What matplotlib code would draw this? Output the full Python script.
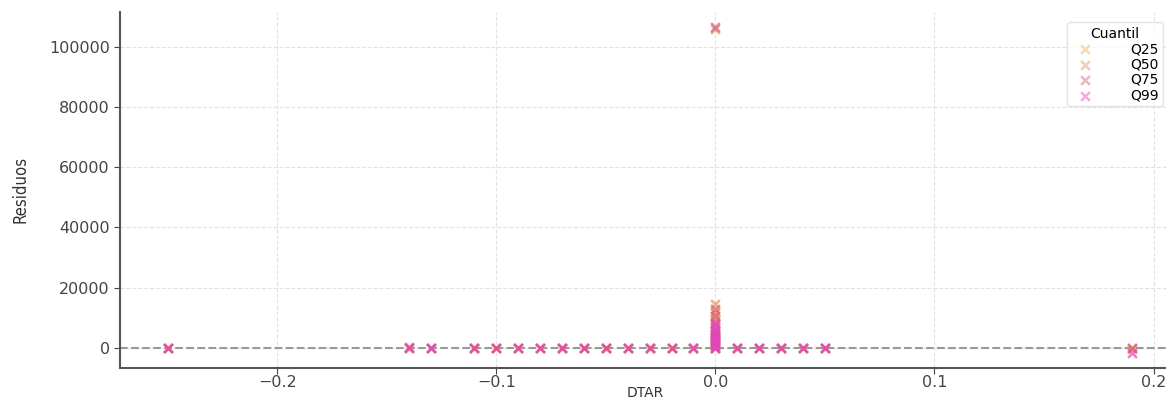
import matplotlib
matplotlib.use('Agg')
import matplotlib.pyplot as plt

# DTAR values observed away from zero (shared by every quantile)
dtar_grid = [-0.25, -0.14, -0.13, -0.11, -0.10, -0.09, -0.08, -0.07, -0.06,
             -0.05, -0.04, -0.03, -0.02, -0.01, 0.01, 0.02, 0.03, 0.04,
             0.05, 0.19]

# residuals on the grid above, per quantile
res_q25 = [-200, -150, -100, -120, -90, -80, -60, -70, -50, -40, -60, -30,
           -40, -20, -30, -50, -60, -80, -100, -300]
res_q50 = [-100, -80, -60, -70, -50, -40, -30, -40, -30, -20, -30, -20,
           -20, -10, -20, -30, -40, -50, -60, -200]
res_q75 = [0, 20, 10, 0, 10, 20, 10, 0, 10, 20, 10, 0, 10, 20, 0, -10,
           -20, -30, -40, -100]
res_q99 = [100, 150, 120, 100, 80, 90, 70, 60, 80, 90, 70, 60, 50, 60,
           40, 30, 20, 10, 0, -1800]

# residuals at DTAR == 0, per quantile
zero_q25 = [0, 1500, 3000, 4500, 6000, 8000, 10000, 12000]
zero_q50 = [0, 2000, 4000, 7000, 9500, 11500, 14500, 106000]
zero_q75 = [0, 1000, 3000, 5500, 8500, 10500, 13000, 106500]
zero_q99 = [0, 500, 1000, 1500, 2000, 2500, 3000, 3500, 4000, 4500, 5000,
            6000, 7000, 8000]

labels = ['Q25', 'Q50', 'Q75', 'Q99']
colors = ['#f0b34a', '#e8905c', '#dc5a80', '#e046b8']

series = [(res_q25, zero_q25), (res_q50, zero_q50),
          (res_q75, zero_q75), (res_q99, zero_q99)]

fig = plt.figure(figsize=(11.66, 3.99), dpi=100)
ax = fig.add_axes([0.103, 0.078, 0.9, 0.892])

for (res, zero), label, color in zip(series, labels, colors):
    xs = dtar_grid + [0.0] * len(zero)
    ys = res + zero
    ax.scatter(xs, ys, marker='x', s=40, color=color, alpha=0.7,
               linewidths=1.8, label=label, zorder=3)

ax.axhline(0, color='#999999', linestyle='--', linewidth=1.5, zorder=2)

ax.set_xlim(-0.2717, 0.2073)
ax.set_ylim(-6650, 111600)
ax.set_xticks([-0.2, -0.1, 0.0, 0.1, 0.2])
ax.set_yticks([0, 20000, 40000, 60000, 80000, 100000])

ax.grid(True, linestyle='--', color='#e2e2e2', linewidth=0.8)
ax.set_axisbelow(True)
for side in ('top', 'right'):
    ax.spines[side].set_visible(False)
for side in ('left', 'bottom'):
    ax.spines[side].set_color('#555555')
    ax.spines[side].set_linewidth(1.5)
ax.tick_params(labelsize=11.5, colors='#444444', length=4)
ax.tick_params(axis='x', pad=1)

ax.set_xlabel('DTAR', fontsize=10, color='#333333', labelpad=-3)
ax.set_ylabel('Residuos', fontsize=12, color='#333333',
              family=['Liberation Sans Narrow', 'DejaVu Sans'],
              fontstretch='condensed', labelpad=14)

leg = ax.legend(title='Cuantil', loc='upper right',
                bbox_to_anchor=(1.0, 0.99), fontsize=10, title_fontsize=10,
                frameon=True, handletextpad=2.2, borderpad=0.3,
                labelspacing=0.1)
leg.get_frame().set_edgecolor('#dddddd')
for h in leg.legend_handles:
    h.set_alpha(0.45)

fig.savefig('out.png', dpi=100)
